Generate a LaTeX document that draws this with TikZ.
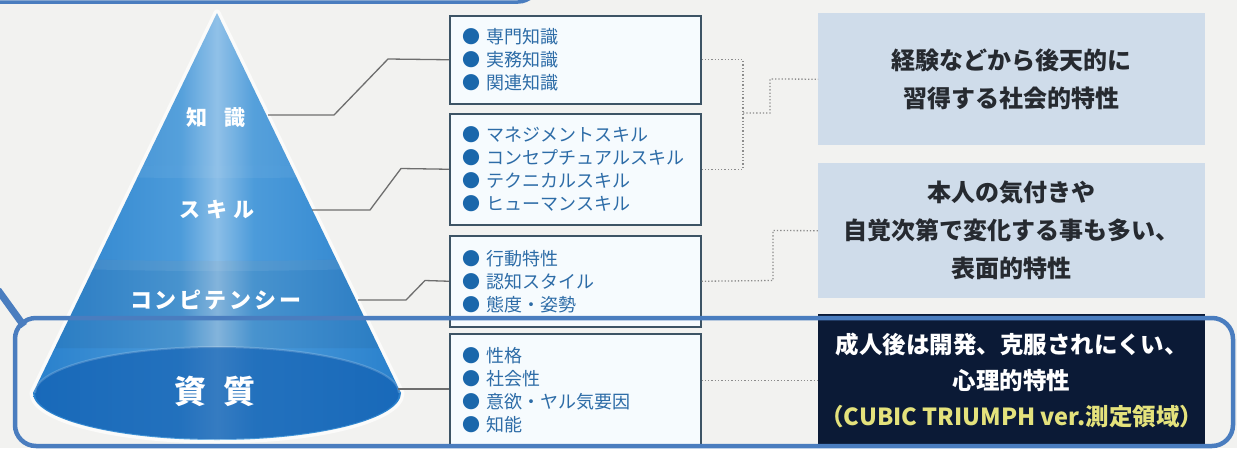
\documentclass[tikz,border=0pt]{standalone}
\usepackage{fontspec}
\newfontfamily\jp{Noto Sans CJK JP}
\definecolor{bg}{HTML}{F2F2F0}
\definecolor{frameb}{HTML}{4A7DBF}
\definecolor{cdk}{HTML}{135DB0}
\definecolor{cmid}{HTML}{237CCA}
\definecolor{clt}{HTML}{4C9BDA}
\definecolor{cbase}{HTML}{1260B2}
\definecolor{linec}{HTML}{6E6E6E}
\definecolor{dotc}{HTML}{8C8C8C}
\definecolor{boxb}{HTML}{3D5465}
\definecolor{boxf}{HTML}{F6FBFE}
\definecolor{itemc}{HTML}{2D6CA7}
\definecolor{bulc}{HTML}{1A67AB}
\definecolor{rfill}{HTML}{CFDCEA}
\definecolor{rtext}{HTML}{262A30}
\definecolor{navy}{HTML}{0B1A36}
\definecolor{ylw}{HTML}{E4E27C}
\pgfdeclarehorizontalshading{conesh}{100bp}{color(0bp)=(cdk); color(22bp)=(cmid); color(45bp)=(clt); color(50bp)=(clt!65!white); color(55bp)=(clt); color(78bp)=(cmid); color(100bp)=(cdk!90!black)}
\newcommand\bl{\textcolor{bulc}{●}\hspace{6pt}}
\tikzset{
  conelabel/.style={text=white, font=\jp\bfseries\fontsize{21}{24}\selectfont, inner sep=0pt},
  ibox/.style={draw=boxb, line width=1.5pt, fill=boxf, anchor=north west, minimum width=251pt, text width=225pt, inner xsep=13pt, inner ysep=0pt, align=left, text=itemc, font=\jp\fontsize{18}{23}\selectfont},
  rbox/.style={fill=rfill, anchor=north west, minimum width=387pt, inner sep=0pt, align=center, text=rtext, font=\jp\bfseries\fontsize{24}{38}\selectfont},
  conn/.style={draw=linec, line width=1.3pt},
  dotconn/.style={draw=dotc, line width=1.3pt, dotted},
  frame/.style={draw=frameb, line width=4.5pt, rounded corners=21pt}
}
\begin{document}
\begin{tikzpicture}[x=1pt,y=-1pt]
\useasboundingbox (0,0) rectangle (1237,448);
\fill[bg] (0,0) rectangle (1237,448);
% top frame remnant
\begin{scope}
\clip (0,0) rectangle (1237,448);
\draw[frame, line width=3.5pt] (-30,-60) rectangle (539,2);
\end{scope}
% glow around cone
\draw[white, opacity=0.7, line width=7pt, line join=round] (217,13) -- (33,393) arc[start angle=180, end angle=0, x radius=184, y radius=47] -- cycle;
% cone body
\path[shading=conesh] (217,13) -- (33,393) arc[start angle=180, end angle=0, x radius=184, y radius=47] -- cycle;
\begin{scope}
\clip (217,13) -- (33,393) arc[start angle=180, end angle=0, x radius=184, y radius=47] -- cycle;
% lighter top section
\fill[white, opacity=0.05] (0,0) -- (434,0) -- (434,160) arc[start angle=0, end angle=180, x radius=217, y radius=6] -- cycle;
% band 2 top strip
\fill[white, opacity=0.06] (0,160) arc[start angle=180, end angle=0, x radius=217, y radius=6] -- (434,172) arc[start angle=0, end angle=180, x radius=217, y radius=6] -- cycle;
% band 3 darker with lighter top strip
\fill[black, opacity=0.05] (0,252) arc[start angle=180, end angle=0, x radius=217, y radius=9] -- (434,348) -- (0,348) -- cycle;
\fill[white, opacity=0.07] (0,252) arc[start angle=180, end angle=0, x radius=217, y radius=9] -- (434,262) arc[start angle=0, end angle=180, x radius=217, y radius=9] -- cycle;
\end{scope}
% base disk
\fill[cbase, opacity=0.7] (217,393) ellipse[x radius=182, y radius=46];
\draw[white, opacity=0.18, line width=2pt] (35,393) arc[start angle=180, end angle=360, x radius=182, y radius=46];
% cone labels
\node[conelabel] (k1) at (216,118) {知\hspace{17pt}識};
\node[conelabel] (k2) at (217,210) {ス\hspace{6pt}キ\hspace{6pt}ル};
\node[conelabel, font=\jp\bfseries\fontsize{22}{24}\selectfont] (k3) at (216,300) {コ\hspace{3pt}ン\hspace{3pt}ピ\hspace{3pt}テ\hspace{3pt}ン\hspace{3pt}シ\hspace{3pt}ー};
\node[conelabel, font=\jp\bfseries\fontsize{32}{34}\selectfont] (k4) at (215,391) {資\hspace{18pt}質};
% cone edge points
\coordinate (c1) at (268,115);
\coordinate (c2) at (312,210);
\coordinate (c3) at (358,300);
\coordinate (c4) at (398,389);
% item boxes
\node[ibox, minimum height=88pt] (b1) at (449,15) {\bl 専門知識\\ \bl 実務知識\\ \bl 関連知識};
\node[ibox, minimum height=111pt] (b2) at (449,113) {\bl マネジメントスキル\\ \bl コンセプチュアルスキル\\ \bl テクニカルスキル\\ \bl ヒューマンスキル};
\node[ibox, minimum height=91pt] (b3) at (449,235) {\bl 行動特性\\ \bl 認知スタイル\\ \bl 態度・姿勢};
\node[ibox, minimum height=113pt] (b4) at (449,333) {\bl 性格\\ \bl 社会性\\ \bl 意欲・ヤル気要因\\ \bl 知能};
% solid connectors
\draw[conn] (c1) -- (334,115) -- (388,59) -- (b1.west);
\draw[conn] (c2) -- (370,210) -- (401,168.5) -- (b2.west);
\draw[conn] (c3) -- (406,300) -- (425,280.5) -- (b3.west);
\draw[conn] (c4) -- (b4.west |- c4);
% right boxes
\node[rbox, minimum height=132pt] (r1) at (818,13) {経験などから後天的に\\習得する社会的特性};
\node[rbox, minimum height=135pt] (r2) at (818,163) {本人の気付きや\\自覚次第で変化する事も多い、\\表面的特性};
\node[rbox, fill=navy, text=white, minimum height=132pt, font=\jp\bfseries\fontsize{23.5}{36}\selectfont] (r3) at (818,314) {成人後は開発、克服されにくい、\\心理的特性\\\textcolor{ylw}{（CUBIC TRIUMPH ver.測定領域）}};
% dotted connectors
\coordinate (m1) at (743,113);
\draw[dotconn] (b1.east) -- (b1.east -| m1) -- (b2.east -| m1) -- (b2.east);
\draw[dotconn] (m1) -- (770,113) -- (770,79) -- (r1.west);
\draw[dotconn] (b3.east) -- (773,280.5) -- (773,230.5) -- (r2.west);
\draw[dotconn] (b4.east |- r3.west) -- (r3.west);
% bottom frame
\coordinate (fl) at (-2,290);
\coordinate (fc) at (24,326);
\draw[frameb, line width=7pt] (fl) -- (fc);
\draw[frame] (15,318) rectangle (1233,446);
\end{tikzpicture}
\end{document}
